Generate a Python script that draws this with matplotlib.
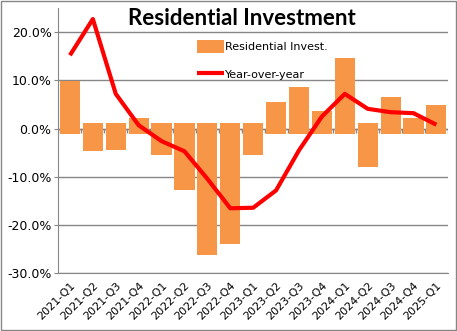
import numpy as np
import matplotlib
matplotlib.use('Agg')
import matplotlib.pyplot as plt

# quarters and values (percent)
quarters = ['2021-Q1', '2021-Q2', '2021-Q3', '2021-Q4',
            '2022-Q1', '2022-Q2', '2022-Q3', '2022-Q4',
            '2023-Q1', '2023-Q2', '2023-Q3', '2023-Q4',
            '2024-Q1', '2024-Q2', '2024-Q3', '2024-Q4',
            '2025-Q1']
resid_invest = [9.9, -4.7, -4.5, 2.3, -5.5, -12.8, -26.2, -23.9,
                -5.5, 5.6, 8.7, 3.7, 14.7, -7.9, 6.6, 2.3, 4.8]
yoy = [15.2, 22.7, 7.2, 0.7, -2.6, -4.7, -10.4, -16.5,
       -16.4, -12.8, -4.5, 2.5, 7.2, 4.1, 3.4, 3.2, 0.8]
y_ticks = [-30, -20, -10, 0, 10, 20]

grey = '#868686'
orange = '#F79646'

fig = plt.figure(figsize=(4.57, 3.31), dpi=100)
ax = fig.add_axes([0.128, 0.174, 0.852, 0.802])

x = np.arange(len(quarters))
vals = np.array(resid_invest)
# bars in the original start a little past zero on the other side
base = np.where(vals >= 0, -1.2, 1.2)
bars = ax.bar(x, vals - base, bottom=base, width=0.88, color=orange, zorder=2,
              label='Residential Invest.')
line, = ax.plot(x, yoy, color='#FF0000', lw=3, zorder=3, label='Year-over-year',
                solid_capstyle='butt')

# zero axis with small ticks between categories
ax.axhline(0, color=grey, lw=1, zorder=1)
ax.vlines(np.arange(len(quarters) + 1) - 0.5, -0.9, 0, color=grey, lw=1, zorder=1)

ax.set_xlim(-0.5, len(quarters) - 0.5)
ax.set_ylim(-30, 25)
ax.set_yticks(y_ticks)
ax.set_yticklabels([f'{t:.1f}%' for t in y_ticks], fontsize=9)
ax.yaxis.grid(True, color=grey, lw=1, zorder=0)
ax.set_axisbelow(True)
ax.tick_params(axis='y', length=3, color=grey, pad=2)

ax.set_xticks(x)
ax.set_xticklabels(quarters, rotation=45, ha='right', rotation_mode='anchor',
                   fontsize=8)
ax.tick_params(axis='x', length=0, pad=5)

for s in ['top', 'right']:
    ax.spines[s].set_visible(False)
ax.spines['left'].set_color(grey)
ax.spines['bottom'].set_color(grey)

fig.text(0.53, 0.945, 'Residential Investment', ha='center', va='center',
         fontsize=16, fontweight='bold', family='Lato')

ax.legend([bars, line], ['Residential Invest.', 'Year-over-year'],
          loc='upper left', bbox_to_anchor=(193 / 457, 1 - 36 / 331),
          bbox_transform=fig.transFigure, frameon=False, fontsize=8,
          handlelength=2.4, handleheight=1.3, labelspacing=1.4,
          handletextpad=0.1, borderaxespad=0)

# outer frame of the chart
fig.patches.append(plt.Rectangle((0.002, 0.003), 0.995, 0.994,
                                 transform=fig.transFigure, fill=False,
                                 edgecolor=grey, lw=1))

fig.savefig('out.png', dpi=100)
